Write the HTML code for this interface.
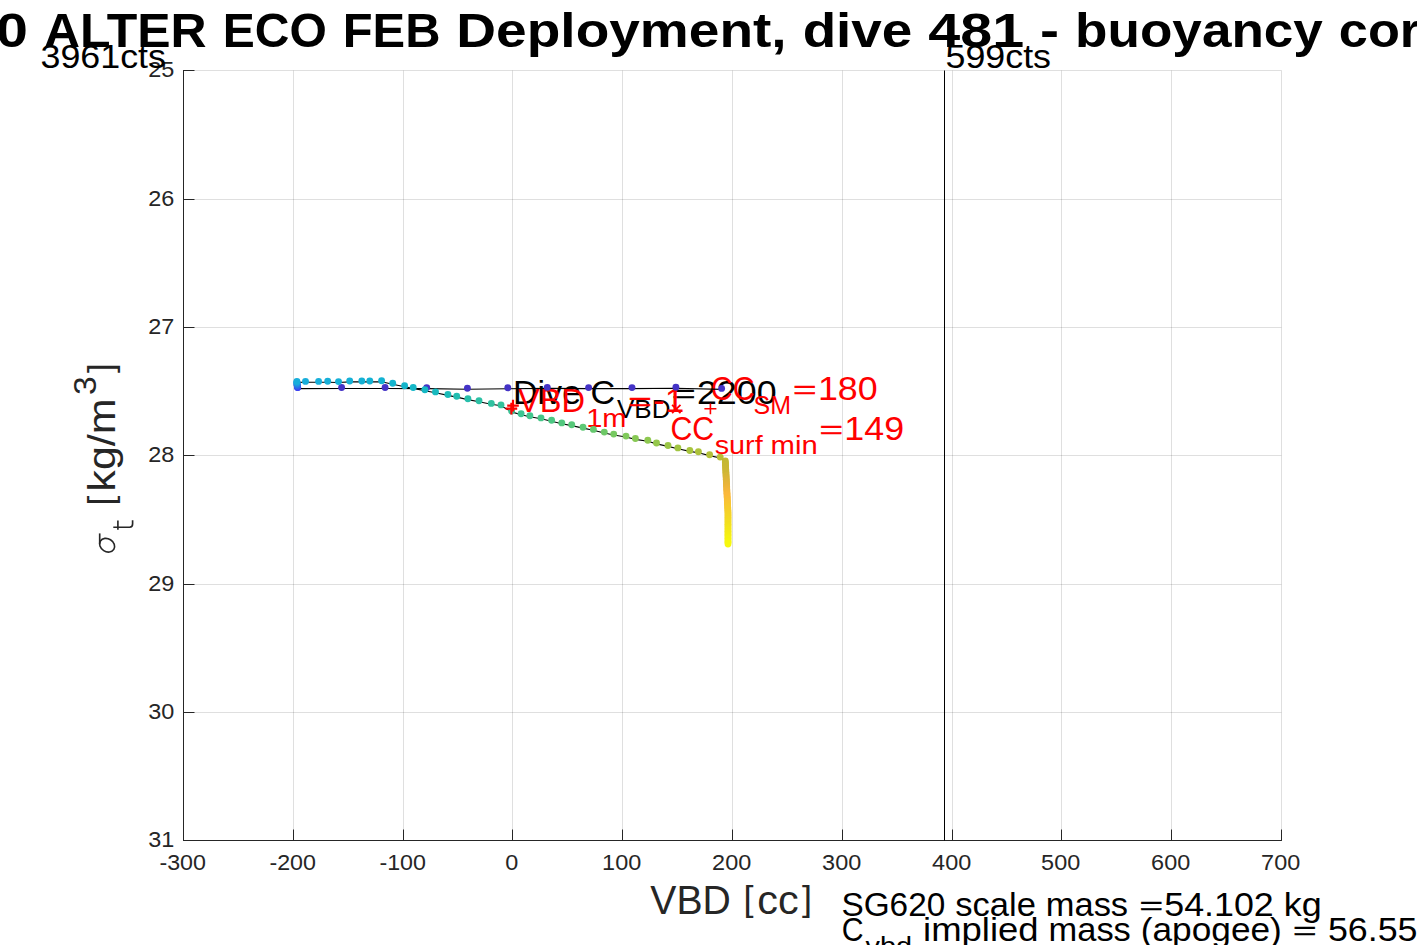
<!DOCTYPE html>
<html><head><meta charset="utf-8"><style>
html,body{margin:0;padding:0;background:#fff;}
body{width:1417px;height:945px;overflow:hidden;}
svg{display:block;}
text{font-family:"Liberation Sans", sans-serif;}
</style></head><body>
<svg width="1417" height="945" viewBox="0 0 1417 945">
<rect width="1417" height="945" fill="#fff"/>
<line x1="293.5" y1="70.5" x2="293.5" y2="840.5" stroke="#262626" stroke-opacity="0.15" stroke-width="1" />
<line x1="403.5" y1="70.5" x2="403.5" y2="840.5" stroke="#262626" stroke-opacity="0.15" stroke-width="1" />
<line x1="512.5" y1="70.5" x2="512.5" y2="840.5" stroke="#262626" stroke-opacity="0.15" stroke-width="1" />
<line x1="622.5" y1="70.5" x2="622.5" y2="840.5" stroke="#262626" stroke-opacity="0.15" stroke-width="1" />
<line x1="732.5" y1="70.5" x2="732.5" y2="840.5" stroke="#262626" stroke-opacity="0.15" stroke-width="1" />
<line x1="842.5" y1="70.5" x2="842.5" y2="840.5" stroke="#262626" stroke-opacity="0.15" stroke-width="1" />
<line x1="952.5" y1="70.5" x2="952.5" y2="840.5" stroke="#262626" stroke-opacity="0.15" stroke-width="1" />
<line x1="1061.5" y1="70.5" x2="1061.5" y2="840.5" stroke="#262626" stroke-opacity="0.15" stroke-width="1" />
<line x1="1171.5" y1="70.5" x2="1171.5" y2="840.5" stroke="#262626" stroke-opacity="0.15" stroke-width="1" />
<line x1="1281.5" y1="70.5" x2="1281.5" y2="840.5" stroke="#262626" stroke-opacity="0.15" stroke-width="1" />
<line x1="183.5" y1="70.5" x2="1281.4" y2="70.5" stroke="#262626" stroke-opacity="0.15" stroke-width="1" />
<line x1="183.5" y1="199.5" x2="1281.4" y2="199.5" stroke="#262626" stroke-opacity="0.15" stroke-width="1" />
<line x1="183.5" y1="327.5" x2="1281.4" y2="327.5" stroke="#262626" stroke-opacity="0.15" stroke-width="1" />
<line x1="183.5" y1="455.5" x2="1281.4" y2="455.5" stroke="#262626" stroke-opacity="0.15" stroke-width="1" />
<line x1="183.5" y1="584.5" x2="1281.4" y2="584.5" stroke="#262626" stroke-opacity="0.15" stroke-width="1" />
<line x1="183.5" y1="712.5" x2="1281.4" y2="712.5" stroke="#262626" stroke-opacity="0.15" stroke-width="1" />
<text x="512.90" y="403.50" font-size="33.17" font-weight="normal" fill="#000" textLength="102.38" lengthAdjust="spacingAndGlyphs" >Dive C</text>
<text x="617.00" y="417.90" font-size="26.49" font-weight="normal" fill="#000" textLength="53.50" lengthAdjust="spacingAndGlyphs" >VBD</text>
<text transform="translate(672.05,402.33) scale(1.288,0.8)" font-size="31.30" fill="#000" stroke="#000" stroke-width="0.6">=</text>
<text x="696.93" y="403.90" font-size="33.17" font-weight="normal" fill="#000" textLength="79.66" lengthAdjust="spacingAndGlyphs" >2200</text>
<text x="518.10" y="411.60" font-size="33.17" font-weight="normal" fill="#ff0000" textLength="66.99" lengthAdjust="spacingAndGlyphs" >VBD</text>
<text x="586.20" y="427.20" font-size="26.49" font-weight="normal" fill="#ff0000" textLength="40.26" lengthAdjust="spacingAndGlyphs" >1m</text>
<text transform="translate(628.25,410.03) scale(1.288,0.8)" font-size="31.30" fill="#ff0000" stroke="#ff0000" stroke-width="0.6">=</text>
<text x="653.13" y="411.60" font-size="33.17" font-weight="normal" fill="#ff0000" textLength="31.21" lengthAdjust="spacingAndGlyphs" >-1</text>
<text x="710.80" y="399.80" font-size="33.17" font-weight="normal" fill="#ff0000" textLength="43.71" lengthAdjust="spacingAndGlyphs" >CC</text>
<text x="753.60" y="413.50" font-size="26.49" font-weight="normal" fill="#ff0000" textLength="37.44" lengthAdjust="spacingAndGlyphs" >SM</text>
<text transform="translate(793.05,398.43) scale(1.288,0.8)" font-size="31.30" fill="#ff0000" stroke="#ff0000" stroke-width="0.6">=</text>
<text x="817.93" y="400.00" font-size="33.17" font-weight="normal" fill="#ff0000" textLength="59.74" lengthAdjust="spacingAndGlyphs" >180</text>
<text x="670.50" y="439.50" font-size="33.17" font-weight="normal" fill="#ff0000" textLength="43.71" lengthAdjust="spacingAndGlyphs" >CC</text>
<text x="714.70" y="454.40" font-size="26.49" font-weight="normal" fill="#ff0000" textLength="47.95" lengthAdjust="spacingAndGlyphs" >surf</text>
<text x="770.60" y="454.40" font-size="26.49" font-weight="normal" fill="#ff0000" textLength="47.14" lengthAdjust="spacingAndGlyphs" >min</text>
<text transform="translate(819.45,437.93) scale(1.288,0.8)" font-size="31.30" fill="#ff0000" stroke="#ff0000" stroke-width="0.6">=</text>
<text x="844.33" y="439.50" font-size="33.17" font-weight="normal" fill="#ff0000" textLength="59.74" lengthAdjust="spacingAndGlyphs" >149</text>
<polyline fill="none" stroke="#000" stroke-width="1.1" points="297.2,382.4 305.5,382.3 318.6,382.3 327.7,382.2 338.5,382.5 349.7,381.9 361.8,381.9 369.8,381.9 381.6,381.7 392.7,384.2 404.6,386.7 413.2,388.4 424.9,390.7 435.5,392.8 447.9,395.4 456.7,397.1 467.9,399.6 479.0,401.7 491.3,404.3 501.0,405.8 511.6,411.9 521.1,414.7 529.9,416.7 541.0,418.8 551.6,421.2 561.8,423.8 571.7,425.6 583.0,428.1 593.4,430.3 604.3,433.0 613.7,435.0 626.0,437.0 635.4,439.4 647.8,441.2 656.5,443.9 668.0,446.4 677.9,448.8 689.8,451.4 698.4,452.7 709.6,455.6 720.2,458.0 725.5,461.0"/>
<polyline fill="none" stroke="#000" stroke-width="1.1" points="297.6,388.6 341.6,388.5 385.1,388.5 426.7,388.6 467.4,389.2 507.8,388.8 547.3,388.4 588.6,388.6 632.0,388.6 675.9,388.3 721.6,389.4"/>
<circle cx="297.6" cy="387.6" r="3.45" fill="#3d46ec"/>
<circle cx="341.6" cy="387.5" r="3.45" fill="#4433c6"/>
<circle cx="385.1" cy="387.5" r="3.45" fill="#4433c6"/>
<circle cx="426.7" cy="387.6" r="3.45" fill="#4433c6"/>
<circle cx="467.4" cy="388.2" r="3.45" fill="#4433c6"/>
<circle cx="507.8" cy="387.8" r="3.45" fill="#4433c6"/>
<circle cx="547.3" cy="387.4" r="3.45" fill="#4433c6"/>
<circle cx="588.6" cy="387.6" r="3.45" fill="#4433c6"/>
<circle cx="632.0" cy="387.6" r="3.45" fill="#4433c6"/>
<circle cx="675.9" cy="387.3" r="3.45" fill="#4433c6"/>
<circle cx="721.6" cy="388.4" r="3.45" fill="#4433c6"/>
<circle cx="297.66799999999995" cy="387.56" r="3.45" fill="#3d3ff2"/>
<circle cx="297.488" cy="386.78999999999996" r="3.45" fill="#384def"/>
<circle cx="297.332" cy="386.02" r="3.45" fill="#345bec"/>
<circle cx="297.2" cy="385.25" r="3.45" fill="#2f69e9"/>
<circle cx="297.092" cy="384.47999999999996" r="3.45" fill="#2a76e6"/>
<circle cx="297.008" cy="383.71" r="3.45" fill="#2684e4"/>
<circle cx="296.948" cy="382.94" r="3.45" fill="#2192e1"/>
<circle cx="296.912" cy="382.16999999999996" r="3.45" fill="#1da0de"/>
<circle cx="296.9" cy="381.4" r="3.45" fill="#18aedb"/>
<circle cx="305.5" cy="381.4" r="3.45" fill="#18aedb"/>
<circle cx="318.6" cy="381.4" r="3.45" fill="#17afda"/>
<circle cx="327.7" cy="381.3" r="3.45" fill="#16afd8"/>
<circle cx="338.5" cy="381.6" r="3.45" fill="#15b0d7"/>
<circle cx="349.7" cy="381.0" r="3.45" fill="#15b0d6"/>
<circle cx="361.8" cy="381.0" r="3.45" fill="#14b1d4"/>
<circle cx="369.8" cy="381.0" r="3.45" fill="#13b1d3"/>
<circle cx="381.6" cy="380.8" r="3.45" fill="#12b2d2"/>
<circle cx="392.7" cy="383.3" r="3.45" fill="#13b4ce"/>
<circle cx="404.6" cy="385.8" r="3.45" fill="#14b5cb"/>
<circle cx="413.2" cy="387.5" r="3.45" fill="#15b7c7"/>
<circle cx="424.9" cy="389.8" r="3.45" fill="#16b8c4"/>
<circle cx="435.5" cy="391.9" r="3.45" fill="#19babf"/>
<circle cx="447.9" cy="394.5" r="3.45" fill="#1dbbb8"/>
<circle cx="456.7" cy="396.2" r="3.45" fill="#22bdb1"/>
<circle cx="467.9" cy="398.7" r="3.45" fill="#27beab"/>
<circle cx="479.0" cy="400.8" r="3.45" fill="#2cc0a4"/>
<circle cx="491.3" cy="403.4" r="3.45" fill="#30c1a0"/>
<circle cx="501.0" cy="404.9" r="3.45" fill="#34c29b"/>
<circle cx="511.6" cy="411.0" r="3.45" fill="#39c396"/>
<circle cx="521.1" cy="413.8" r="3.45" fill="#3dc491"/>
<circle cx="529.9" cy="415.8" r="3.45" fill="#42c58d"/>
<circle cx="541.0" cy="417.9" r="3.45" fill="#46c688"/>
<circle cx="551.6" cy="420.3" r="3.45" fill="#4cc783"/>
<circle cx="561.8" cy="422.9" r="3.45" fill="#52c77e"/>
<circle cx="571.7" cy="424.7" r="3.45" fill="#57c779"/>
<circle cx="583.0" cy="427.2" r="3.45" fill="#5dc874"/>
<circle cx="593.4" cy="429.4" r="3.45" fill="#65c86e"/>
<circle cx="604.3" cy="432.1" r="3.45" fill="#6ec867"/>
<circle cx="613.7" cy="434.1" r="3.45" fill="#77c961"/>
<circle cx="626.0" cy="436.1" r="3.45" fill="#80c95b"/>
<circle cx="635.4" cy="438.5" r="3.45" fill="#88c955"/>
<circle cx="647.8" cy="440.3" r="3.45" fill="#8ec850"/>
<circle cx="656.5" cy="443.0" r="3.45" fill="#94c74b"/>
<circle cx="668.0" cy="445.5" r="3.45" fill="#9bc646"/>
<circle cx="677.9" cy="447.9" r="3.45" fill="#a1c542"/>
<circle cx="689.8" cy="450.5" r="3.45" fill="#a7c43e"/>
<circle cx="698.4" cy="451.8" r="3.45" fill="#adc23b"/>
<circle cx="709.6" cy="454.7" r="3.45" fill="#b3c039"/>
<circle cx="720.2" cy="457.1" r="3.45" fill="#b9be36"/>
<circle cx="725.30" cy="461.00" r="3.4" fill="#c2b932"/>
<circle cx="725.37" cy="462.41" r="3.4" fill="#c3b932"/>
<circle cx="725.45" cy="463.81" r="3.4" fill="#c4b832"/>
<circle cx="725.52" cy="465.22" r="3.4" fill="#c6b833"/>
<circle cx="725.59" cy="466.63" r="3.4" fill="#c7b833"/>
<circle cx="725.67" cy="468.03" r="3.4" fill="#c8b733"/>
<circle cx="725.74" cy="469.44" r="3.4" fill="#c9b733"/>
<circle cx="725.81" cy="470.85" r="3.4" fill="#cbb734"/>
<circle cx="725.89" cy="472.25" r="3.4" fill="#ccb634"/>
<circle cx="725.96" cy="473.66" r="3.4" fill="#cdb634"/>
<circle cx="726.03" cy="475.07" r="3.4" fill="#d1b635"/>
<circle cx="726.11" cy="476.47" r="3.4" fill="#d4b635"/>
<circle cx="726.18" cy="477.88" r="3.4" fill="#d7b536"/>
<circle cx="726.25" cy="479.29" r="3.4" fill="#dab537"/>
<circle cx="726.33" cy="480.69" r="3.4" fill="#ddb537"/>
<circle cx="726.40" cy="482.10" r="3.4" fill="#e0b538"/>
<circle cx="726.47" cy="483.51" r="3.4" fill="#e3b439"/>
<circle cx="726.54" cy="484.92" r="3.4" fill="#e6b43a"/>
<circle cx="726.62" cy="486.32" r="3.4" fill="#e9b43a"/>
<circle cx="726.69" cy="487.73" r="3.4" fill="#ebb53a"/>
<circle cx="726.76" cy="489.14" r="3.4" fill="#eeb53b"/>
<circle cx="726.84" cy="490.54" r="3.4" fill="#f1b63b"/>
<circle cx="726.91" cy="491.95" r="3.4" fill="#f4b63b"/>
<circle cx="726.98" cy="493.36" r="3.4" fill="#f6b73b"/>
<circle cx="727.06" cy="494.76" r="3.4" fill="#f9b83c"/>
<circle cx="727.13" cy="496.17" r="3.4" fill="#fbb83c"/>
<circle cx="727.20" cy="497.58" r="3.4" fill="#faba3a"/>
<circle cx="727.28" cy="498.98" r="3.4" fill="#fabc39"/>
<circle cx="727.35" cy="500.39" r="3.4" fill="#f9be37"/>
<circle cx="727.42" cy="501.80" r="3.4" fill="#f9c036"/>
<circle cx="727.50" cy="503.20" r="3.4" fill="#f8c334"/>
<circle cx="727.57" cy="504.61" r="3.4" fill="#f8c533"/>
<circle cx="727.64" cy="506.02" r="3.4" fill="#f7c731"/>
<circle cx="727.72" cy="507.42" r="3.4" fill="#f7c930"/>
<circle cx="727.79" cy="508.83" r="3.4" fill="#f6cb2e"/>
<circle cx="727.86" cy="510.24" r="3.4" fill="#f6cc2d"/>
<circle cx="727.94" cy="511.64" r="3.4" fill="#f5ce2c"/>
<circle cx="728.00" cy="513.05" r="3.4" fill="#f5d02a"/>
<circle cx="728.00" cy="514.46" r="3.4" fill="#f5d229"/>
<circle cx="728.00" cy="515.86" r="3.4" fill="#f4d428"/>
<circle cx="728.00" cy="517.27" r="3.4" fill="#f4d527"/>
<circle cx="728.00" cy="518.68" r="3.4" fill="#f4d725"/>
<circle cx="728.00" cy="520.08" r="3.4" fill="#f3d924"/>
<circle cx="728.00" cy="521.49" r="3.4" fill="#f3db23"/>
<circle cx="728.00" cy="522.90" r="3.4" fill="#f3dc22"/>
<circle cx="728.00" cy="524.31" r="3.4" fill="#f2de20"/>
<circle cx="728.00" cy="525.71" r="3.4" fill="#f2e01f"/>
<circle cx="728.00" cy="527.12" r="3.4" fill="#f2e21e"/>
<circle cx="728.00" cy="528.53" r="3.4" fill="#f3e41d"/>
<circle cx="728.00" cy="529.93" r="3.4" fill="#f3e61b"/>
<circle cx="728.00" cy="531.34" r="3.4" fill="#f3e71a"/>
<circle cx="728.00" cy="532.75" r="3.4" fill="#f4e919"/>
<circle cx="728.00" cy="534.15" r="3.4" fill="#f4eb18"/>
<circle cx="728.00" cy="535.56" r="3.4" fill="#f4ed16"/>
<circle cx="728.00" cy="536.97" r="3.4" fill="#f4ef15"/>
<circle cx="728.00" cy="538.37" r="3.4" fill="#f5f114"/>
<circle cx="728.00" cy="539.78" r="3.4" fill="#f5f213"/>
<circle cx="728.00" cy="541.19" r="3.4" fill="#f5f411"/>
<circle cx="728.00" cy="542.59" r="3.4" fill="#f6f610"/>
<circle cx="728.00" cy="544.00" r="3.4" fill="#f6f80f"/>
<path d="M507.2,405.6H518.8M513.0,399.8V411.40000000000003" stroke="#ff0000" stroke-width="2.2" fill="none"/>
<path d="M505.59999999999997,408.6H517.1999999999999M511.4,402.8V414.40000000000003" stroke="#ff0000" stroke-width="2.2" fill="none"/>
<path d="M672.0999999999999,404.8L680.5,413.2M672.0999999999999,413.2L680.5,404.8" stroke="#ff0000" stroke-width="1.8" fill="none"/>
<path d="M704.4,408.8H716.4M710.4,403.6V414.3" stroke="#ff0000" stroke-width="1.6" fill="none"/>
<line x1="183.5" y1="840.5" x2="1281.9" y2="840.5" stroke="#262626" stroke-width="1" />
<line x1="183.5" y1="70.0" x2="183.5" y2="841.0" stroke="#262626" stroke-width="1" />
<line x1="183.5" y1="829.5" x2="183.5" y2="840.5" stroke="#262626" stroke-width="1" />
<line x1="293.5" y1="829.5" x2="293.5" y2="840.5" stroke="#262626" stroke-width="1" />
<line x1="403.5" y1="829.5" x2="403.5" y2="840.5" stroke="#262626" stroke-width="1" />
<line x1="512.5" y1="829.5" x2="512.5" y2="840.5" stroke="#262626" stroke-width="1" />
<line x1="622.5" y1="829.5" x2="622.5" y2="840.5" stroke="#262626" stroke-width="1" />
<line x1="732.5" y1="829.5" x2="732.5" y2="840.5" stroke="#262626" stroke-width="1" />
<line x1="842.5" y1="829.5" x2="842.5" y2="840.5" stroke="#262626" stroke-width="1" />
<line x1="952.5" y1="829.5" x2="952.5" y2="840.5" stroke="#262626" stroke-width="1" />
<line x1="1061.5" y1="829.5" x2="1061.5" y2="840.5" stroke="#262626" stroke-width="1" />
<line x1="1171.5" y1="829.5" x2="1171.5" y2="840.5" stroke="#262626" stroke-width="1" />
<line x1="1281.5" y1="829.5" x2="1281.5" y2="840.5" stroke="#262626" stroke-width="1" />
<line x1="183.5" y1="70.5" x2="194.5" y2="70.5" stroke="#262626" stroke-width="1" />
<line x1="183.5" y1="199.5" x2="194.5" y2="199.5" stroke="#262626" stroke-width="1" />
<line x1="183.5" y1="327.5" x2="194.5" y2="327.5" stroke="#262626" stroke-width="1" />
<line x1="183.5" y1="455.5" x2="194.5" y2="455.5" stroke="#262626" stroke-width="1" />
<line x1="183.5" y1="584.5" x2="194.5" y2="584.5" stroke="#262626" stroke-width="1" />
<line x1="183.5" y1="712.5" x2="194.5" y2="712.5" stroke="#262626" stroke-width="1" />
<line x1="183.5" y1="840.5" x2="194.5" y2="840.5" stroke="#262626" stroke-width="1" />
<line x1="944.5" y1="70.5" x2="944.5" y2="840.5" stroke="#000" stroke-width="1" />
<text x="159.44" y="869.80" font-size="21.72" font-weight="normal" fill="#262626" textLength="46.53" lengthAdjust="spacingAndGlyphs" >-300</text>
<text x="269.44" y="869.80" font-size="21.72" font-weight="normal" fill="#262626" textLength="46.53" lengthAdjust="spacingAndGlyphs" >-200</text>
<text x="379.44" y="869.80" font-size="21.72" font-weight="normal" fill="#262626" textLength="46.53" lengthAdjust="spacingAndGlyphs" >-100</text>
<text x="505.18" y="869.80" font-size="21.72" font-weight="normal" fill="#262626" textLength="13.04" lengthAdjust="spacingAndGlyphs" >0</text>
<text x="602.13" y="869.80" font-size="21.72" font-weight="normal" fill="#262626" textLength="39.13" lengthAdjust="spacingAndGlyphs" >100</text>
<text x="712.13" y="869.80" font-size="21.72" font-weight="normal" fill="#262626" textLength="39.13" lengthAdjust="spacingAndGlyphs" >200</text>
<text x="822.13" y="869.80" font-size="21.72" font-weight="normal" fill="#262626" textLength="39.13" lengthAdjust="spacingAndGlyphs" >300</text>
<text x="932.13" y="869.80" font-size="21.72" font-weight="normal" fill="#262626" textLength="39.13" lengthAdjust="spacingAndGlyphs" >400</text>
<text x="1041.13" y="869.80" font-size="21.72" font-weight="normal" fill="#262626" textLength="39.13" lengthAdjust="spacingAndGlyphs" >500</text>
<text x="1151.13" y="869.80" font-size="21.72" font-weight="normal" fill="#262626" textLength="39.13" lengthAdjust="spacingAndGlyphs" >600</text>
<text x="1261.13" y="869.80" font-size="21.72" font-weight="normal" fill="#262626" textLength="39.13" lengthAdjust="spacingAndGlyphs" >700</text>
<text x="148.21" y="77.20" font-size="21.72" font-weight="normal" fill="#262626" textLength="26.09" lengthAdjust="spacingAndGlyphs" >25</text>
<text x="148.21" y="206.20" font-size="21.72" font-weight="normal" fill="#262626" textLength="26.09" lengthAdjust="spacingAndGlyphs" >26</text>
<text x="148.21" y="334.20" font-size="21.72" font-weight="normal" fill="#262626" textLength="26.09" lengthAdjust="spacingAndGlyphs" >27</text>
<text x="148.21" y="462.20" font-size="21.72" font-weight="normal" fill="#262626" textLength="26.09" lengthAdjust="spacingAndGlyphs" >28</text>
<text x="148.21" y="591.20" font-size="21.72" font-weight="normal" fill="#262626" textLength="26.09" lengthAdjust="spacingAndGlyphs" >29</text>
<text x="148.21" y="719.20" font-size="21.72" font-weight="normal" fill="#262626" textLength="26.09" lengthAdjust="spacingAndGlyphs" >30</text>
<text x="148.21" y="847.20" font-size="21.72" font-weight="normal" fill="#262626" textLength="26.09" lengthAdjust="spacingAndGlyphs" >31</text>
<text x="650.30" y="913.80" font-size="39.84" font-weight="normal" fill="#262626" textLength="80.47" lengthAdjust="spacingAndGlyphs" >VBD</text>
<text x="743.39" y="911.30" font-size="35.97" fill="#262626">[</text>
<text x="757.39" y="913.80" font-size="39.84" font-weight="normal" fill="#262626" textLength="41.35" lengthAdjust="spacingAndGlyphs" >cc</text>
<text x="802.11" y="911.30" font-size="35.97" fill="#262626">]</text>
<text x="-4.00" y="46.60" font-size="48.64" font-weight="bold" fill="#000" textLength="31.94" lengthAdjust="spacingAndGlyphs" >0</text>
<text x="43.92" y="46.60" font-size="48.64" font-weight="bold" fill="#000" textLength="162.78" lengthAdjust="spacingAndGlyphs" >ALTER</text>
<text x="222.68" y="46.60" font-size="48.64" font-weight="bold" fill="#000" textLength="104.06" lengthAdjust="spacingAndGlyphs" >ECO</text>
<text x="342.72" y="46.60" font-size="48.64" font-weight="bold" fill="#000" textLength="97.69" lengthAdjust="spacingAndGlyphs" >FEB</text>
<text x="456.39" y="46.60" font-size="48.64" font-weight="bold" fill="#000" textLength="330.29" lengthAdjust="spacingAndGlyphs" >Deployment,</text>
<text x="802.66" y="46.60" font-size="48.64" font-weight="bold" fill="#000" textLength="109.64" lengthAdjust="spacingAndGlyphs" >dive</text>
<text x="928.28" y="46.60" font-size="48.64" font-weight="bold" fill="#000" textLength="95.81" lengthAdjust="spacingAndGlyphs" >481</text>
<text x="1040.07" y="46.60" font-size="48.64" font-weight="bold" fill="#000" textLength="19.05" lengthAdjust="spacingAndGlyphs" >-</text>
<text x="1075.10" y="46.60" font-size="48.64" font-weight="bold" fill="#000" textLength="247.77" lengthAdjust="spacingAndGlyphs" >buoyancy</text>
<text x="1338.84" y="46.60" font-size="48.64" font-weight="bold" fill="#000" textLength="81.38" lengthAdjust="spacingAndGlyphs" >cor</text>
<text x="40.50" y="67.70" font-size="33.17" font-weight="normal" fill="#000" textLength="125.44" lengthAdjust="spacingAndGlyphs" >3961cts</text>
<text x="945.50" y="67.50" font-size="33.17" font-weight="normal" fill="#000" textLength="105.53" lengthAdjust="spacingAndGlyphs" >599cts</text>
<text x="841.40" y="915.70" font-size="33.17" font-weight="normal" fill="#000" textLength="103.86" lengthAdjust="spacingAndGlyphs" >SG620</text>
<text x="955.21" y="915.70" font-size="33.17" font-weight="normal" fill="#000" textLength="80.65" lengthAdjust="spacingAndGlyphs" >scale</text>
<text x="1045.81" y="915.70" font-size="33.17" font-weight="normal" fill="#000" textLength="82.28" lengthAdjust="spacingAndGlyphs" >mass</text>
<text transform="translate(1139.40,914.13) scale(1.288,0.8)" font-size="31.30" fill="#000" stroke="#000" stroke-width="0.6">=</text>
<text x="1164.27" y="915.70" font-size="33.17" font-weight="normal" fill="#000" textLength="109.52" lengthAdjust="spacingAndGlyphs" >54.102</text>
<text x="1283.74" y="915.70" font-size="33.17" font-weight="normal" fill="#000" textLength="37.99" lengthAdjust="spacingAndGlyphs" >kg</text>
<text x="841.70" y="941.00" font-size="33.17" font-weight="normal" fill="#000" textLength="21.85" lengthAdjust="spacingAndGlyphs" >C</text>
<text x="865.60" y="954.50" font-size="26.49" font-weight="normal" fill="#000" textLength="46.53" lengthAdjust="spacingAndGlyphs" >vbd</text>
<text x="923.05" y="941.00" font-size="33.17" font-weight="normal" fill="#000" textLength="115.57" lengthAdjust="spacingAndGlyphs" >implied</text>
<text x="1048.57" y="941.00" font-size="33.17" font-weight="normal" fill="#000" textLength="82.28" lengthAdjust="spacingAndGlyphs" >mass</text>
<text x="1140.81" y="941.00" font-size="33.17" font-weight="normal" fill="#000" textLength="141.00" lengthAdjust="spacingAndGlyphs" >(apogee)</text>
<text transform="translate(1293.11,939.43) scale(1.288,0.8)" font-size="31.30" fill="#000" stroke="#000" stroke-width="0.6">=</text>
<text x="1327.93" y="941.00" font-size="33.17" font-weight="normal" fill="#000" textLength="89.61" lengthAdjust="spacingAndGlyphs" >56.55</text>
<g transform="translate(115,555) rotate(-90)" fill="#262626">
<text x="49.55" y="-2.4" font-size="35.5">[</text>
<text x="63.34" y="0" font-size="39.20" textLength="93.42" lengthAdjust="spacingAndGlyphs">kg/m</text>
<text x="160" y="-18.9" font-size="31.26" textLength="18.77" lengthAdjust="spacingAndGlyphs">3</text>
<text x="181.9" y="-2.4" font-size="35.5">]</text>
</g>
<g fill="none" stroke="#262626" stroke-width="1.65" stroke-linecap="butt">
<ellipse cx="107.1" cy="545.2" rx="7.9" ry="6.4" transform="rotate(32 107.1 545.2)"/>
<path d="M99.7,533.4V544.5"/>
<path d="M113.3,527.2H129.6Q132.6,527.2 132.6,524V520.3M117.9,520.4V529.8"/>
</g>
</svg>
</body></html>
